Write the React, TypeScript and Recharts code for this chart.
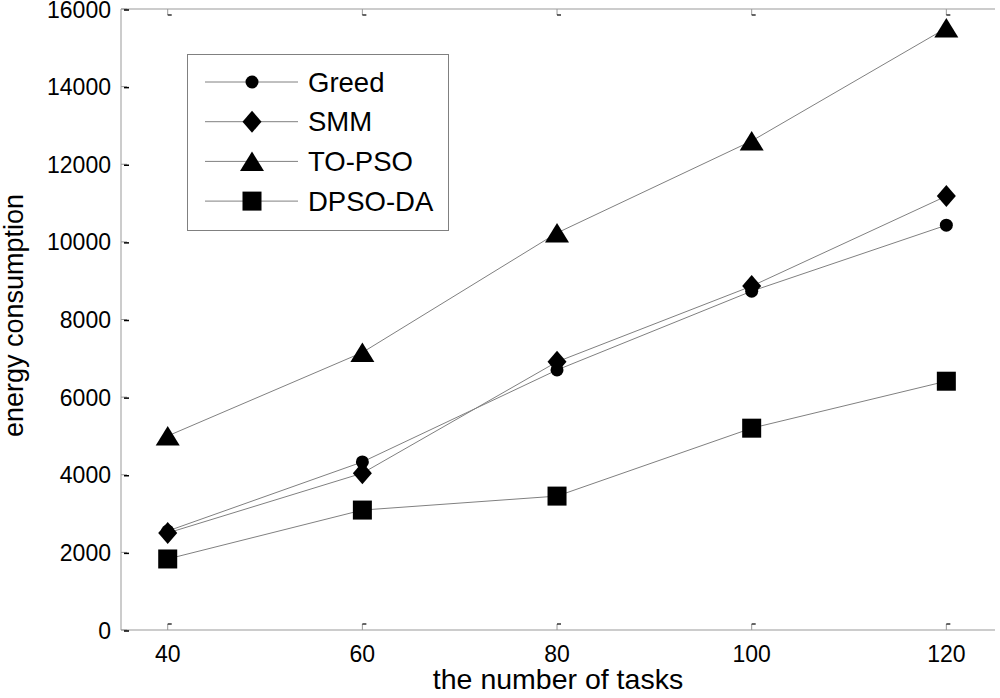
import React from 'react';
import { LineChart, Line, XAxis, YAxis } from 'recharts';

const tasks = [40, 60, 80, 100, 120];
const greed = [2550, 4330, 6700, 8730, 10430];
const smm = [2500, 4040, 6910, 8860, 11180];
const topso = [5000, 7150, 10230, 12600, 15510];
const dpso = [1830, 3090, 3450, 5200, 6410];
const xTicks = [40, 60, 80, 100, 120];
const yTicks = [0, 2000, 4000, 6000, 8000, 10000, 12000, 14000, 16000];

const seriesNames = ['Greed', 'SMM', 'TO-PSO', 'DPSO-DA'];
const seriesKeys = ['greed', 'smm', 'topso', 'dpso'];
const seriesShapes = ['circle', 'diamond', 'triangle', 'square'];

const data = tasks.map((t, i) => ({
  x: t,
  greed: greed[i],
  smm: smm[i],
  topso: topso[i],
  dpso: dpso[i],
}));

const FONT = '"Liberation Sans", Arial, Helvetica, sans-serif';
const AXIS_COLOR = '#999';
const LINE_COLOR = '#808080';

function marker(shape: string, cx: number, cy: number, key?: string) {
  switch (shape) {
    case 'circle':
      return <circle key={key} cx={cx} cy={cy} r={6.5} fill="#000" />;
    case 'diamond':
      return (
        <polygon
          key={key}
          points={`${cx},${cy - 11} ${cx + 9.5},${cy} ${cx},${cy + 11} ${cx - 9.5},${cy}`}
          fill="#000"
        />
      );
    case 'triangle':
      return (
        <polygon
          key={key}
          points={`${cx},${cy - 10} ${cx + 12},${cy + 9.5} ${cx - 12},${cy + 9.5}`}
          fill="#000"
        />
      );
    default:
      return <rect key={key} x={cx - 9.5} y={cy - 9.5} width={19} height={19} fill="#000" />;
  }
}

const makeDot = (shape: string) => (props: any) => {
  const { cx, cy, index } = props;
  if (cx == null || cy == null) return <g key={index} />;
  return marker(shape, cx, cy, `${shape}-${index}`);
};

const XTickBottom = (props: any) => {
  const { x, y, payload } = props;
  return (
    <g>
      <line x1={x} y1={y} x2={x} y2={y - 6} stroke={AXIS_COLOR} />
      <line x1={x} y1={y - 6} x2={x + 4} y2={y - 6} stroke="#000" strokeWidth={1.2} />
      <text x={x} y={y + 32} textAnchor="middle" fontSize={23} fontFamily={FONT} fill="#000">
        {payload.value}
      </text>
    </g>
  );
};

const XTickTop = (props: any) => {
  const { x, y } = props;
  return (
    <g>
      <line x1={x} y1={y} x2={x} y2={y + 6} stroke={AXIS_COLOR} />
      <line x1={x} y1={y + 6} x2={x + 4} y2={y + 6} stroke="#000" strokeWidth={1.2} />
    </g>
  );
};

const YTickLeft = (props: any) => {
  const { x, y, payload } = props;
  return (
    <g>
      <line x1={x} y1={y} x2={x + 6} y2={y} stroke={AXIS_COLOR} />
      <line x1={x + 3} y1={y + 1} x2={x + 8} y2={y + 1} stroke="#000" strokeWidth={1.5} />
      <text x={x - 10} y={y + 8.5} textAnchor="end" fontSize={23} fontFamily={FONT} fill="#000">
        {payload.value}
      </text>
    </g>
  );
};

const YTickRight = (props: any) => {
  const { x, y } = props;
  return (
    <g>
      <line x1={x} y1={y} x2={x - 6} y2={y} stroke={AXIS_COLOR} />
      <line x1={x - 3} y1={y + 1} x2={x - 8} y2={y + 1} stroke="#000" strokeWidth={1.5} />
    </g>
  );
};

const YLabel = (props: any) => {
  const vb = props.viewBox || {};
  const cy = (vb.y ?? 8) + (vb.height ?? 622) / 2;
  return (
    <text
      transform={`translate(23, ${cy - 4}) rotate(-90)`}
      textAnchor="middle"
      fontSize={27}
      fontFamily={FONT}
      fill="#000"
    >
      energy consumption
    </text>
  );
};

const XLabel = (props: any) => {
  const vb = props.viewBox || {};
  const cx = (vb.x ?? 121) + (vb.width ?? 874) / 2;
  return (
    <text x={cx} y={689} textAnchor="middle" fontSize={28.5} fontFamily={FONT} fill="#000">
      the number of tasks
    </text>
  );
};

const LegendBox = () => (
  <svg width={262} height={177} style={{ display: 'block', overflow: 'visible' }}>
    <rect x={0.5} y={0.5} width={261} height={176} fill="#fff" stroke="#808080" strokeWidth={1} />
    {seriesNames.map((name, i) => {
      const cy = 28 + i * 39.7;
      return (
        <g key={name}>
          <line x1={18} y1={cy} x2={111} y2={cy} stroke={LINE_COLOR} strokeWidth={1} />
          {marker(seriesShapes[i], 65, cy)}
          <text x={121} y={cy + 9.5} fontSize={27.5} fontFamily={FONT} fill="#000">
            {name}
          </text>
        </g>
      );
    })}
  </svg>
);

export default function App() {
  return (
    <div style={{ position: 'absolute', left: 0, top: 0, width: 1000, height: 698, background: '#fff' }}>
      <LineChart
        width={1000}
        height={698}
        data={data}
        margin={{ top: 8, right: 5, bottom: 0, left: 0 }}
      >
        <XAxis
          xAxisId="b"
          dataKey="x"
          type="number"
          domain={[35.2, 125]}
          ticks={xTicks}
          allowDataOverflow
          axisLine={{ stroke: AXIS_COLOR }}
          tickLine={false}
          tickSize={0}
          tickMargin={0}
          height={68}
          tick={<XTickBottom />}
          interval={0}
          label={<XLabel />}
        />
        <XAxis
          xAxisId="t"
          orientation="top"
          dataKey="x"
          type="number"
          domain={[35.2, 125]}
          ticks={xTicks}
          allowDataOverflow
          axisLine={{ stroke: AXIS_COLOR }}
          tickLine={false}
          tickSize={0}
          tickMargin={0}
          height={1}
          tick={<XTickTop />}
          interval={0}
        />
        <YAxis
          yAxisId="l"
          type="number"
          domain={[0, 16000]}
          ticks={yTicks}
          axisLine={{ stroke: AXIS_COLOR }}
          tickLine={false}
          tickSize={0}
          tickMargin={0}
          width={121}
          tick={<YTickLeft />}
          interval={0}
          label={<YLabel />}
        />
        <YAxis
          yAxisId="r"
          orientation="right"
          type="number"
          domain={[0, 16000]}
          ticks={yTicks}
          axisLine={{ stroke: AXIS_COLOR }}
          tickLine={false}
          tickSize={0}
          tickMargin={0}
          width={0}
          tick={<YTickRight />}
          interval={0}
        />
        {seriesKeys.map((k, i) => (
          <Line
            key={k}
            xAxisId="b"
            yAxisId="l"
            dataKey={k}
            name={seriesNames[i]}
            type="linear"
            stroke={LINE_COLOR}
            strokeWidth={1}
            dot={makeDot(seriesShapes[i])}
            activeDot={false}
            isAnimationActive={false}
          />
        ))}
      </LineChart>
      <div style={{ position: 'absolute', left: 187, top: 54 }}>
        <LegendBox />
      </div>
    </div>
  );
}
